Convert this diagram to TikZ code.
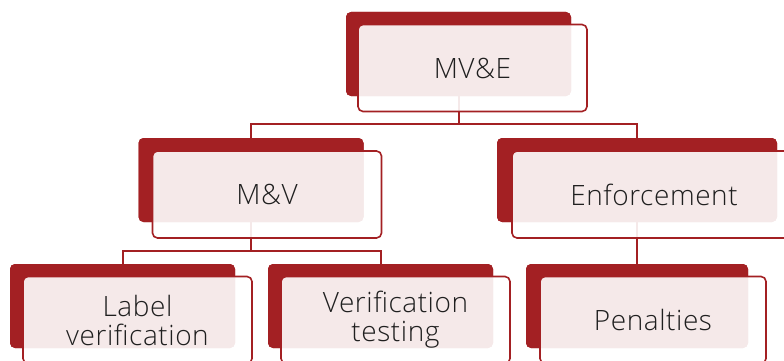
\documentclass[tikz,border=0pt]{standalone}
\usepackage{fontspec}
\setmainfont{Open Sans}[UprightFont=* Light, LetterSpace=2]
\definecolor{dred}{HTML}{A32023}
\definecolor{txt}{HTML}{1F1F1F}
\begin{document}
\begin{tikzpicture}[x=1pt,y=-1pt,
  backbox/.style={rectangle, rounded corners=5pt, fill=dred, inner sep=0pt,
    minimum width=225pt, minimum height=84pt},
  frontbox/.style={rectangle, rounded corners=5pt, draw=dred, line width=1.6pt,
    fill=white, fill opacity=0.9, text opacity=1, text=txt, inner sep=0pt,
    minimum width=229pt, minimum height=87pt, align=center,
    font=\fontsize{28}{29}\selectfont},
  conn/.style={draw=dred, line width=2pt}]
\useasboundingbox (0,0) rectangle (784,361);
\clip (0,0) rectangle (784,361);
% back boxes
\node[backbox] (mveb) at (458.5,54) {};
\node[backbox] (mvb) at (251,180) {};
\node[backbox, minimum width=280pt] (enfb) at (637,180) {};
\node[backbox] (lvb) at (122.5,306) {};
\node[backbox] (vtb) at (380.5,306) {};
\node[backbox, minimum width=222pt] (penb) at (637,306) {};
% connectors
\coordinate (j1) at (458.5,124);
\coordinate (j2) at (251,251);
\draw[conn] (mveb.center) -- (j1);
\draw[conn] (mvb.north) |- (j1) -| (enfb.north);
\draw[conn] (mvb.center) -- (j2);
\draw[conn] (lvb.north) |- (j2) -| (vtb.north);
\draw[conn] (enfb.center) -- (penb.north);
% redraw back boxes over connector ends
\node[backbox] at (mveb) {};
\node[backbox] at (mvb) {};
\node[backbox, minimum width=280pt] at (enfb) {};
\node[backbox] at (lvb) {};
\node[backbox] at (vtb) {};
\node[backbox, minimum width=222pt] at (penb) {};
% front boxes
\node[frontbox] (mve) at (472.5,68) {MV\&E};
\node[frontbox] (mv) at (267,194.5) {M\&V};
\node[frontbox, minimum width=284pt] (enf) at (654,194.5) {Enforcement};
\node[frontbox] (lv) at (137.5,320) {Label\\verification};
\node[frontbox] (vt) at (395.5,320) {Verification\\testing};
\node[frontbox, minimum width=226pt] (pen) at (653,320) {Penalties};
\end{tikzpicture}
\end{document}
